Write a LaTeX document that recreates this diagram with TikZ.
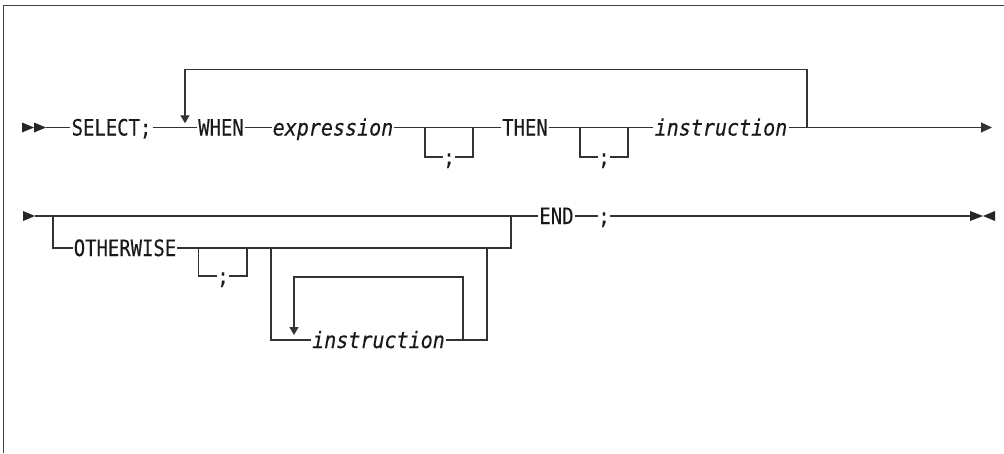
\documentclass[tikz,border=0pt]{standalone}
\usepackage{fontspec}
\usetikzlibrary{arrows.meta}
\newfontfamily\rrfont[FakeStretch=0.84,FakeBold=0.3]{DejaVu Sans Mono}
\newfontfamily\rifont[FakeStretch=0.89,FakeBold=0.3]{DejaVu Sans Mono}
\begin{document}
\begin{tikzpicture}[x=1pt,y=-1pt,
  ln/.style={draw=black!80, line width=1.2pt},
  kw/.style={inner ysep=0pt, inner xsep=1pt, text height=16pt, text depth=0pt,
     font={\rrfont\fontsize{22.5}{26}\selectfont}, text=black!90},
  var/.style={kw, font={\rifont\itshape\fontsize{22.5}{26}\selectfont}},
  semi/.style={kw, inner xsep=0pt},
  tipend/.style={-{Triangle[length=11pt,width=10pt]}},
  tipdown/.style={-{Triangle[length=8pt,width=9pt]}},
]
\useasboundingbox (0,0) rectangle (1004,453);
% frame
\draw[line width=1pt, black!75] (3,453) -- (3,5.5) -- (1004,5.5);

% ---------- row 1 ----------
\fill[black!85] (22,122.5) -- (34,127.5) -- (22,132.5) -- cycle;
\fill[black!85] (34,122.5) -- (46,127.5) -- (34,132.5) -- cycle;
\coordinate (s1) at (46,127.5);
\node[kw]  (select) at (111.5,127.5) {SELECT;};
\node[kw]  (when)   at (221,127.5) {WHEN};
\node[var] (expr)   at (333,127.5) {expression};
\node[kw]  (then)   at (525,127.5) {THEN};
\node[var] (instr)  at (721,127.5) {instruction};
\coordinate (e1) at (992,127.5);
\coordinate (loopR) at (807,127.5);
\coordinate (loopTR) at (807,69.5);
\coordinate (loopTip) at (185,123.3);

\draw[ln] (s1) -- (select);
\draw[ln] (select) -- (when);
\draw[ln] (when) -- (expr);
\draw[ln] (expr) -- (then);
\draw[ln] (then) -- (instr);
\draw[ln, tipend] (instr) -- (e1);
\draw[ln, tipdown] (loopR) -- (loopTR) -| (loopTip);

% optional ; boxes on row 1
\coordinate (b1L) at (425,127.5);
\coordinate (b1R) at (473,127.5);
\node[semi] (sc1) at (449,157) {;};
\draw[ln] (b1L) |- (sc1);
\draw[ln] (sc1) -| (b1R);
\coordinate (b2L) at (580,127.5);
\coordinate (b2R) at (628,127.5);
\node[semi] (sc2) at (604,157) {;};
\draw[ln] (b2L) |- (sc2);
\draw[ln] (sc2) -| (b2R);

% ---------- row 2 ----------
\fill[black!85] (23,211) -- (35,216) -- (23,221) -- cycle;
\coordinate (s2) at (35,216);
\node[kw]   (end)     at (556.5,216) {END};
\node[semi] (semiEnd) at (604,216) {;};
\coordinate (e2) at (970,216);
\fill[black!85] (970,211) -- (983,216) -- (970,221) -- cycle;
\fill[black!85] (995,211) -- (983,216) -- (995,221) -- cycle;

\draw[ln] (s2) -- (end);
\draw[ln] (end) -- (semiEnd);
\draw[ln] (semiEnd) -- (e2);

% OTHERWISE branch
\coordinate (o1) at (53,216);
\coordinate (o2) at (511,216);
\node[kw] (other) at (125,248) {OTHERWISE};
\draw[ln] (o1) |- (other);
\draw[ln] (other) -| (o2);

% optional ;
\coordinate (b3L) at (198.5,248);
\coordinate (b3R) at (247,248);
\node[semi] (sc3) at (223,276) {;};
\draw[ln] (b3L) |- (sc3);
\draw[ln] (sc3) -| (b3R);

% optional repeated instruction
\coordinate (i1) at (271,248);
\coordinate (i2) at (487,248);
\node[var] (instr2) at (378.5,340) {instruction};
\draw[ln] (i1) |- (instr2);
\draw[ln] (instr2) -| (i2);
\coordinate (l2R) at (463,340);
\coordinate (l2TR) at (463,277);
\coordinate (l2Tip) at (294,335);
\draw[ln, tipdown] (l2R) -- (l2TR) -| (l2Tip);
\end{tikzpicture}
\end{document}
